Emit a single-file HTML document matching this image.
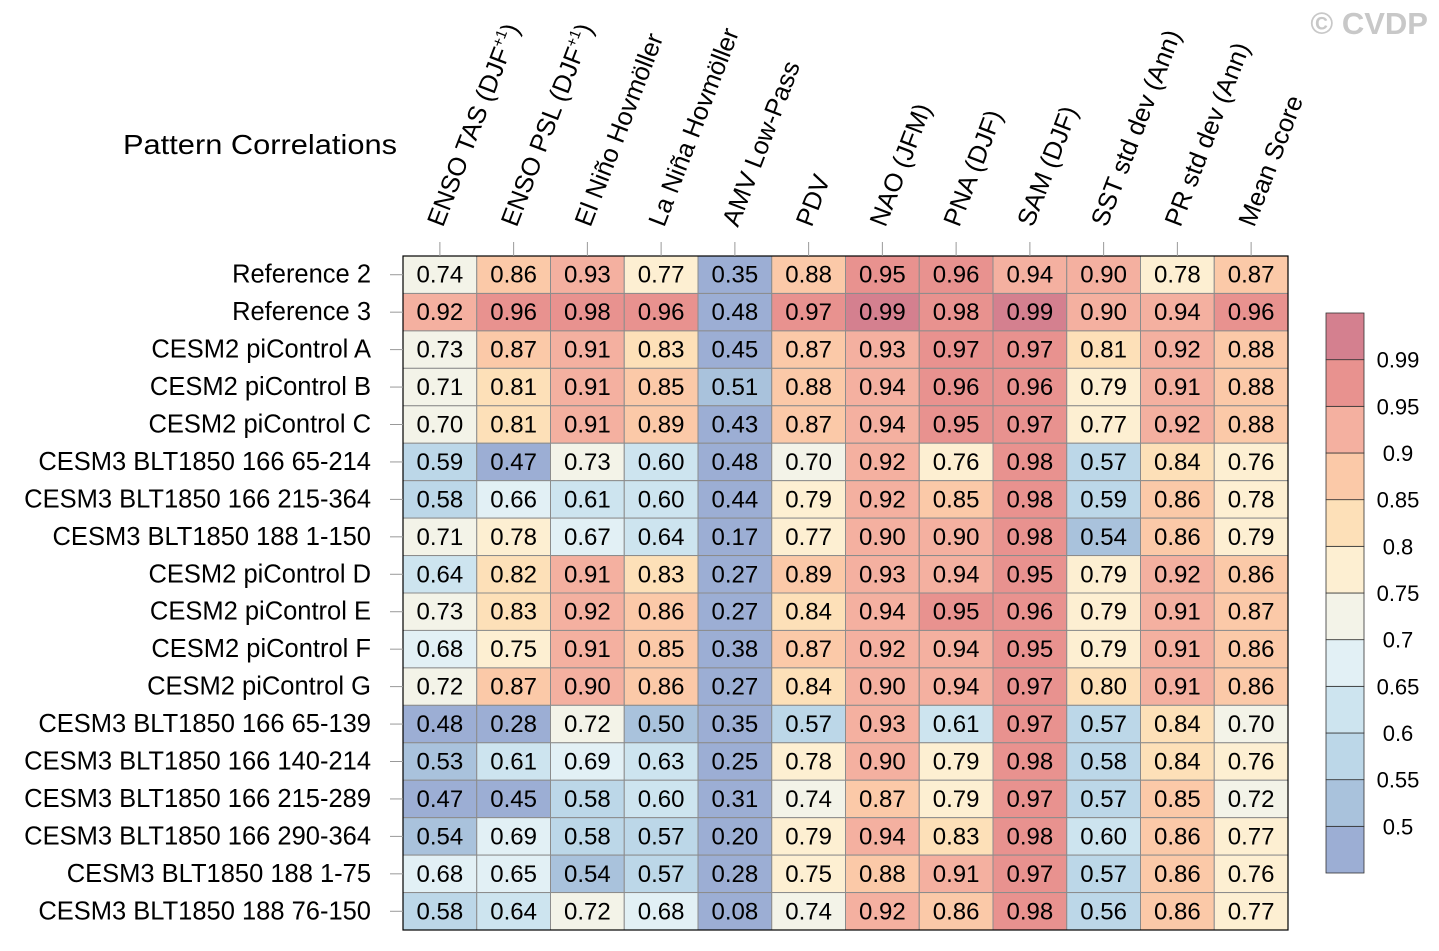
<!DOCTYPE html>
<html><head><meta charset="utf-8"><style>
body{margin:0;background:#fff;}
svg{display:block;font-family:"Liberation Sans",Arial,sans-serif;}
</style></head><body>
<svg id="chart" width="1439" height="951" viewBox="0 0 1439 951">
<text x="123" y="154" font-size="28" textLength="274" lengthAdjust="spacingAndGlyphs">Pattern Correlations</text>
<text x="1428" y="34" font-size="31" font-weight="bold" fill="#c8c8c8" text-anchor="end">© CVDP</text>
<g id="cells"></g>
<g id="xlab"></g>
<g id="ylab"></g>
<g id="cbar"></g>
</svg>
<script>
const columns = ["ENSO TAS (DJF+1)","ENSO PSL (DJF+1)","El Niño Hovmöller","La Niña Hovmöller","AMV Low-Pass","PDV","NAO (JFM)","PNA (DJF)","SAM (DJF)","SST std dev (Ann)","PR std dev (Ann)","Mean Score"];
const rows = ["Reference 2","Reference 3","CESM2 piControl A","CESM2 piControl B","CESM2 piControl C","CESM3 BLT1850 166 65-214","CESM3 BLT1850 166 215-364","CESM3 BLT1850 188 1-150","CESM2 piControl D","CESM2 piControl E","CESM2 piControl F","CESM2 piControl G","CESM3 BLT1850 166 65-139","CESM3 BLT1850 166 140-214","CESM3 BLT1850 166 215-289","CESM3 BLT1850 166 290-364","CESM3 BLT1850 188 1-75","CESM3 BLT1850 188 76-150"];
const values = [
[0.74,0.86,0.93,0.77,0.35,0.88,0.95,0.96,0.94,0.90,0.78,0.87],
[0.92,0.96,0.98,0.96,0.48,0.97,0.99,0.98,0.99,0.90,0.94,0.96],
[0.73,0.87,0.91,0.83,0.45,0.87,0.93,0.97,0.97,0.81,0.92,0.88],
[0.71,0.81,0.91,0.85,0.51,0.88,0.94,0.96,0.96,0.79,0.91,0.88],
[0.70,0.81,0.91,0.89,0.43,0.87,0.94,0.95,0.97,0.77,0.92,0.88],
[0.59,0.47,0.73,0.60,0.48,0.70,0.92,0.76,0.98,0.57,0.84,0.76],
[0.58,0.66,0.61,0.60,0.44,0.79,0.92,0.85,0.98,0.59,0.86,0.78],
[0.71,0.78,0.67,0.64,0.17,0.77,0.90,0.90,0.98,0.54,0.86,0.79],
[0.64,0.82,0.91,0.83,0.27,0.89,0.93,0.94,0.95,0.79,0.92,0.86],
[0.73,0.83,0.92,0.86,0.27,0.84,0.94,0.95,0.96,0.79,0.91,0.87],
[0.68,0.75,0.91,0.85,0.38,0.87,0.92,0.94,0.95,0.79,0.91,0.86],
[0.72,0.87,0.90,0.86,0.27,0.84,0.90,0.94,0.97,0.80,0.91,0.86],
[0.48,0.28,0.72,0.50,0.35,0.57,0.93,0.61,0.97,0.57,0.84,0.70],
[0.53,0.61,0.69,0.63,0.25,0.78,0.90,0.79,0.98,0.58,0.84,0.76],
[0.47,0.45,0.58,0.60,0.31,0.74,0.87,0.79,0.97,0.57,0.85,0.72],
[0.54,0.69,0.58,0.57,0.20,0.79,0.94,0.83,0.98,0.60,0.86,0.77],
[0.68,0.65,0.54,0.57,0.28,0.75,0.88,0.91,0.97,0.57,0.86,0.76],
[0.58,0.64,0.72,0.68,0.08,0.74,0.92,0.86,0.98,0.56,0.86,0.77]];
const levels = [0.5,0.55,0.6,0.65,0.7,0.75,0.8,0.85,0.9,0.95,0.99];
const levelLabels = ["0.5","0.55","0.6","0.65","0.7","0.75","0.8","0.85","0.9","0.95","0.99"];
const palette = ["#9caed4","#a9c2dc","#bcd7e8","#cde4ef","#e2f0f5","#f3f3e8","#fdefd2","#fde0b8","#fbc9a8","#f4b0a0","#e8928f","#d4808f"];

const NS="http://www.w3.org/2000/svg";
function mk(tag,attrs,parent){const e=document.createElementNS(NS,tag);for(const k in attrs)e.setAttribute(k,attrs[k]);parent.appendChild(e);return e;}
const X0=403,X1=1288,Y0=256,Y1=930;
const cw=(X1-X0)/columns.length, ch=(Y1-Y0)/rows.length;
const xPos=i=>X0+i*cw, yPos=j=>Y0+j*ch;
function colorFor(v){let k=0;while(k<levels.length&&Math.round(v*100)>=Math.round(levels[k]*100))k++;return palette[k];}
const cells=document.getElementById('cells');
values.forEach((row,j)=>row.forEach((v,i)=>{
  const r=mk('rect',{x:xPos(i),y:yPos(j),width:cw,height:ch,fill:colorFor(v),stroke:'#8c8c8c','stroke-width':1},cells);
  
  
  const t=mk('text',{x:xPos(i)+cw/2,y:yPos(j)+ch/2+8,'font-size':24,'text-anchor':'middle',fill:'#000'},cells);
  t.textContent=v.toFixed(2);
  
  
}));
mk('rect',{x:X0,y:Y0,width:X1-X0,height:Y1-Y0,fill:'none',stroke:'#000','stroke-width':1.2},cells);
const xl=document.getElementById('xlab');
columns.forEach((c,i)=>{
  const cx=xPos(i)+cw/2;
  const tk=mk('line',{x1:cx,x2:cx,y1:242,y2:Y0,stroke:'#999','stroke-width':1},xl);
  
  
  const t=mk('text',{x:cx+3,y:228,'font-size':25.5,transform:`rotate(-69 ${cx+3} 228)`},xl);
  
  
  if(c.indexOf('+1')>=0){
    const base=c.replace('+1)','');
    t.appendChild(document.createTextNode(base));
    const s=mk('tspan',{'font-size':15,dy:-10},t);s.textContent='+1';
    const s2=mk('tspan',{dy:10},t);s2.textContent=')';
  } else t.textContent=c;
});
const yl=document.getElementById('ylab');
rows.forEach((r,j)=>{
  const cy=yPos(j)+ch/2;
  const tk=mk('line',{x1:390,x2:X0,y1:cy,y2:cy,stroke:'#999','stroke-width':1},yl);
  
  
  const t=mk('text',{x:371,y:cy+8,'font-size':25.5,'text-anchor':'end'},yl);
  t.textContent=r;
  
  
});
const cb=document.getElementById('cbar');
const CB0=313,CB1=873,cbx=1326,cbw=38,bh=(CB1-CB0)/palette.length;
palette.forEach((p,k)=>{
  const r=mk('rect',{x:cbx,y:CB1-(k+1)*bh,width:cbw,height:bh,fill:p,stroke:'#333','stroke-width':0.8},cb);
  
  
});
levelLabels.forEach((l,k)=>{
  const t=mk('text',{x:1398,y:CB1-(k+1)*bh+8,'font-size':22,'text-anchor':'middle'},cb);
  t.textContent=l;
  
  
});
</script>
</body></html>
